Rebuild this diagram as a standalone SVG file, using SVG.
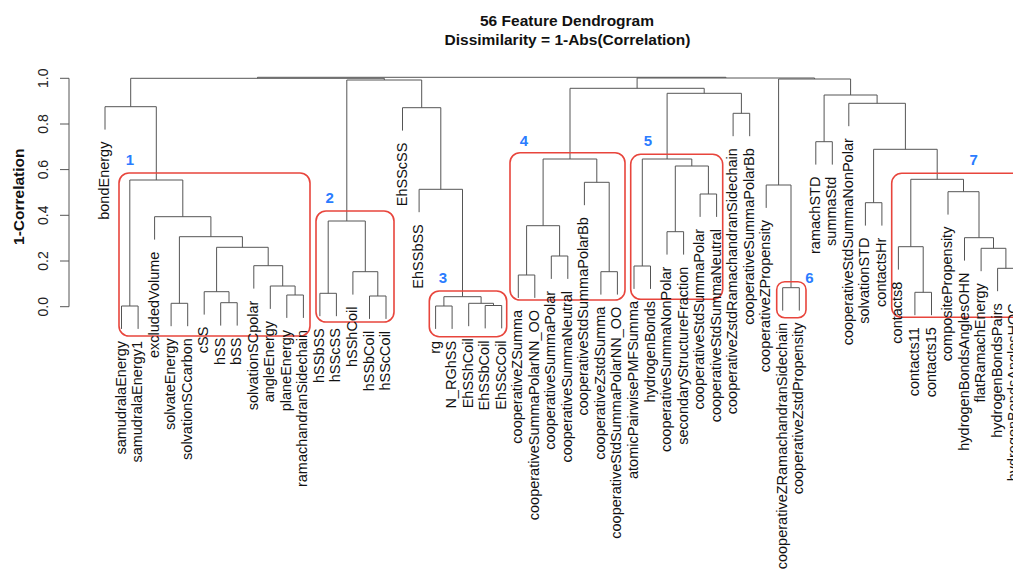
<svg xmlns="http://www.w3.org/2000/svg" width="1013" height="571" viewBox="0 0 1013 571">
<style>
text{font-family:"Liberation Sans",Arial,Helvetica,sans-serif;fill:#111}
.title{font-size:15.5px;font-weight:bold;text-anchor:middle}
.ytitle{font-size:15.5px;font-weight:bold;text-anchor:middle}
.tick{font-size:14px;text-anchor:middle;fill:#222}
.lbl{font-size:14.5px;text-anchor:end}
.tree path{fill:none;stroke:#555;stroke-width:1}
.axis{fill:none;stroke:#555;stroke-width:1}
.box{fill:none;stroke:#e8453c;stroke-width:1.6}
.cid{font-size:15px;font-weight:bold;fill:#2a7cff;text-anchor:middle}
</style>
<rect width="1013" height="571" fill="#fff"/>
<text class="title" x="567" y="26">56 Feature Dendrogram</text>
<text class="title" x="567.5" y="44.5">Dissimilarity = 1-Abs(Correlation)</text>
<g id="yaxis">
<path class="axis" d="M69 78.3V306.7M60 78.3H69M60 124H69M60 169.6H69M60 215.3H69M60 261H69M60 306.7H69"/>
<text class="tick" transform="translate(48.3,306.7) rotate(-90)">0.0</text>
<text class="tick" transform="translate(48.3,261) rotate(-90)">0.2</text>
<text class="tick" transform="translate(48.3,215.3) rotate(-90)">0.4</text>
<text class="tick" transform="translate(48.3,169.6) rotate(-90)">0.6</text>
<text class="tick" transform="translate(48.3,124) rotate(-90)">0.8</text>
<text class="tick" transform="translate(48.3,78.3) rotate(-90)">1.0</text>
<text class="ytitle" transform="translate(24,196.7) rotate(-90)">1-Correlation</text>
</g>
<g id="connectors" class="tree">
<path d="M121.5 328.9V306H138.1V328.9"/>
<path d="M286.8 317.9V295H303.4V317.9"/>
<path d="M270.3 308.9V286H295.1V295"/>
<path d="M253.8 288.6V265.7H282.7V286"/>
<path d="M220.7 325.6V302.7H237.2V325.6"/>
<path d="M204.2 314.6V291.7H229V302.7"/>
<path d="M216.6 291.7V247.3H268.2V265.7"/>
<path d="M171.1 326.2V303.3H187.7V326.2"/>
<path d="M179.4 303.3V236.7H242.4V247.3"/>
<path d="M154.6 239.6V216.7H210.9V236.7"/>
<path d="M129.8 306V180H182.8V216.7"/>
<path d="M105 129.6V106.7H156.3V180"/>
<path d="M319.9 316.2V293.3H336.4V316.2"/>
<path d="M369.5 318.9V296H386V318.9"/>
<path d="M352.9 294.6V271.7H377.8V296"/>
<path d="M328.2 293.3V221H365.3V271.7"/>
<path d="M435.6 328.9V306H452.1V328.9"/>
<path d="M485.2 328.4V305.5H501.7V328.4"/>
<path d="M468.7 326.2V303.3H493.5V305.5"/>
<path d="M443.9 306V296.7H481.1V303.3"/>
<path d="M419.1 212.2V189.3H462.5V296.7"/>
<path d="M402.5 130.6V107.7H440.8V189.3"/>
<path d="M346.8 221V80H421.7V107.7"/>
<path d="M518.3 297.9V275H534.8V297.9"/>
<path d="M551.3 278.9V256H567.8V278.9"/>
<path d="M526.6 275V225.7H559.6V256"/>
<path d="M600.9 294.6V271.7H617.4V294.6"/>
<path d="M584.4 205.2V182.3H609.2V271.7"/>
<path d="M543.1 225.7V159H596.8V182.3"/>
<path d="M634 288.9V266H650.5V288.9"/>
<path d="M667 254.6V231.7H683.6V254.6"/>
<path d="M700.1 216.9V194H716.6V216.9"/>
<path d="M675.3 231.7V166H708.4V194"/>
<path d="M642.3 266V159H691.8V166"/>
<path d="M733.1 136.2V113.3H749.7V136.2"/>
<path d="M667.1 159V93.3H741.4V113.3"/>
<path d="M570 159V88.3H704.2V93.3"/>
<path d="M782.7 310.6V287.7H799.3V310.6"/>
<path d="M766.2 207.9V185H791V287.7"/>
<path d="M815.8 164.6V141.7H832.3V164.6"/>
<path d="M865.4 225.6V202.7H881.9V225.6"/>
<path d="M914.9 315.2V292.3H931.5V315.2"/>
<path d="M898.4 269.6V246.7H923.2V292.3"/>
<path d="M997.6 291.2V268.3H1014.1V291.2"/>
<path d="M981.1 271.2V248.3H1005.9V268.3"/>
<path d="M964.5 260.6V237.7H993.5V248.3"/>
<path d="M948 214.6V191.7H979V237.7"/>
<path d="M910.8 246.7V179.3H963.5V191.7"/>
<path d="M873.6 202.7V149.3H937.2V179.3"/>
<path d="M848.8 126.2V103.3H905.4V149.3"/>
<path d="M824.1 141.7V95H877.1V103.3"/>
<path d="M778.6 185V79H850.6V95"/>
<path d="M130.7 106.7V78.3H384.3V80"/>
<path d="M637.1 88.3V78H814.6V79"/>
<path d="M257.5 78.3V77.3H725.9V78"/>
</g>
<g id="clusters">
<g id="cluster-1"><rect class="box" x="119" y="173" width="191" height="163" rx="10"/><text class="cid" x="130" y="165">1</text></g>
<g id="cluster-2"><rect class="box" x="316" y="211" width="78" height="111" rx="10"/><text class="cid" x="329.7" y="203.3">2</text></g>
<g id="cluster-3"><rect class="box" x="429.3" y="291" width="77.4" height="45.7" rx="10"/><text class="cid" x="443" y="283.3">3</text></g>
<g id="cluster-4"><rect class="box" x="510" y="152.7" width="115" height="147.3" rx="10"/><text class="cid" x="524" y="146">4</text></g>
<g id="cluster-5"><rect class="box" x="630.7" y="154.3" width="92" height="145" rx="10"/><text class="cid" x="648" y="146">5</text></g>
<g id="cluster-6"><rect class="box" x="776.7" y="281.7" width="29.3" height="36" rx="8"/><text class="cid" x="809.5" y="282.7">6</text></g>
<g id="cluster-7"><rect class="box" x="891.7" y="173.3" width="140" height="144" rx="10"/><text class="cid" x="973.7" y="165">7</text></g>
</g>
<g id="leaves">
<g id="leaf-1"><text class="lbl" transform="translate(109,141.6) rotate(-90)">bondEnergy</text></g>
<g id="leaf-2"><text class="lbl" transform="translate(125.5,340.9) rotate(-90)">samudralaEnergy</text></g>
<g id="leaf-3"><text class="lbl" transform="translate(142.1,340.9) rotate(-90)">samudralaEnergy1</text></g>
<g id="leaf-4"><text class="lbl" transform="translate(158.6,251.6) rotate(-90)">excludedVolume</text></g>
<g id="leaf-5"><text class="lbl" transform="translate(175.1,338.2) rotate(-90)">solvateEnergy</text></g>
<g id="leaf-6"><text class="lbl" transform="translate(191.7,338.2) rotate(-90)">solvationSCcarbon</text></g>
<g id="leaf-7"><text class="lbl" transform="translate(208.2,326.6) rotate(-90)">cSS</text></g>
<g id="leaf-8"><text class="lbl" transform="translate(224.7,337.6) rotate(-90)">hSS</text></g>
<g id="leaf-9"><text class="lbl" transform="translate(241.2,337.6) rotate(-90)">bSS</text></g>
<g id="leaf-10"><text class="lbl" transform="translate(257.8,300.6) rotate(-90)">solvationSCpolar</text></g>
<g id="leaf-11"><text class="lbl" transform="translate(274.3,320.9) rotate(-90)">angleEnergy</text></g>
<g id="leaf-12"><text class="lbl" transform="translate(290.8,329.9) rotate(-90)">planeEnergy</text></g>
<g id="leaf-13"><text class="lbl" transform="translate(307.4,329.9) rotate(-90)">ramachandranSidechain</text></g>
<g id="leaf-14"><text class="lbl" transform="translate(323.9,328.2) rotate(-90)">hSSbSS</text></g>
<g id="leaf-15"><text class="lbl" transform="translate(340.4,328.2) rotate(-90)">hSScSS</text></g>
<g id="leaf-16"><text class="lbl" transform="translate(356.9,306.6) rotate(-90)">hSShCoil</text></g>
<g id="leaf-17"><text class="lbl" transform="translate(373.5,330.9) rotate(-90)">hSSbCoil</text></g>
<g id="leaf-18"><text class="lbl" transform="translate(390,330.9) rotate(-90)">hSScCoil</text></g>
<g id="leaf-19"><text class="lbl" transform="translate(406.5,142.6) rotate(-90)">EhSScSS</text></g>
<g id="leaf-20"><text class="lbl" transform="translate(423.1,224.2) rotate(-90)">EhSSbSS</text></g>
<g id="leaf-21"><text class="lbl" transform="translate(439.6,340.9) rotate(-90)">rg</text></g>
<g id="leaf-22"><text class="lbl" transform="translate(456.1,340.9) rotate(-90)">N_RGhSS</text></g>
<g id="leaf-23"><text class="lbl" transform="translate(472.7,338.2) rotate(-90)">EhSShCoil</text></g>
<g id="leaf-24"><text class="lbl" transform="translate(489.2,340.4) rotate(-90)">EhSSbCoil</text></g>
<g id="leaf-25"><text class="lbl" transform="translate(505.7,340.4) rotate(-90)">EhSScCoil</text></g>
<g id="leaf-26"><text class="lbl" transform="translate(522.3,309.9) rotate(-90)">cooperativeZSumma</text></g>
<g id="leaf-27"><text class="lbl" transform="translate(538.8,309.9) rotate(-90)">cooperativeSummaPolarNN_OO</text></g>
<g id="leaf-28"><text class="lbl" transform="translate(555.3,290.9) rotate(-90)">cooperativeSummaPolar</text></g>
<g id="leaf-29"><text class="lbl" transform="translate(571.8,290.9) rotate(-90)">cooperativeSummaNeutral</text></g>
<g id="leaf-30"><text class="lbl" transform="translate(588.4,217.2) rotate(-90)">cooperativeStdSummaPolarBb</text></g>
<g id="leaf-31"><text class="lbl" transform="translate(604.9,306.6) rotate(-90)">cooperativeZstdSumma</text></g>
<g id="leaf-32"><text class="lbl" transform="translate(621.4,306.6) rotate(-90)">cooperativeStdSummaPolarNN_OO</text></g>
<g id="leaf-33"><text class="lbl" transform="translate(638,300.9) rotate(-90)">atomicPairwisePMFSumma</text></g>
<g id="leaf-34"><text class="lbl" transform="translate(654.5,300.9) rotate(-90)">hydrogenBonds</text></g>
<g id="leaf-35"><text class="lbl" transform="translate(671,266.6) rotate(-90)">cooperativeSummaNonPolar</text></g>
<g id="leaf-36"><text class="lbl" transform="translate(687.6,266.6) rotate(-90)">secondaryStructureFraction</text></g>
<g id="leaf-37"><text class="lbl" transform="translate(704.1,228.9) rotate(-90)">cooperativeStdSummaPolar</text></g>
<g id="leaf-38"><text class="lbl" transform="translate(720.6,228.9) rotate(-90)">cooperativeStdSummaNeutral</text></g>
<g id="leaf-39"><text class="lbl" transform="translate(737.1,148.2) rotate(-90)">cooperativeZstdRamachandranSidechain</text></g>
<g id="leaf-40"><text class="lbl" transform="translate(753.7,148.2) rotate(-90)">cooperativeSummaPolarBb</text></g>
<g id="leaf-41"><text class="lbl" transform="translate(770.2,219.9) rotate(-90)">cooperativeZPropensity</text></g>
<g id="leaf-42"><text class="lbl" transform="translate(786.7,322.6) rotate(-90)">cooperativeZRamachandranSidechain</text></g>
<g id="leaf-43"><text class="lbl" transform="translate(803.3,322.6) rotate(-90)">cooperativeZstdPropensity</text></g>
<g id="leaf-44"><text class="lbl" transform="translate(819.8,176.6) rotate(-90)">ramachSTD</text></g>
<g id="leaf-45"><text class="lbl" transform="translate(836.3,176.6) rotate(-90)">summaStd</text></g>
<g id="leaf-46"><text class="lbl" transform="translate(852.8,138.2) rotate(-90)">cooperativeStdSummaNonPolar</text></g>
<g id="leaf-47"><text class="lbl" transform="translate(869.4,237.6) rotate(-90)">solvationSTD</text></g>
<g id="leaf-48"><text class="lbl" transform="translate(885.9,237.6) rotate(-90)">contactsHr</text></g>
<g id="leaf-49"><text class="lbl" transform="translate(902.4,281.6) rotate(-90)">contacts8</text></g>
<g id="leaf-50"><text class="lbl" transform="translate(918.9,327.2) rotate(-90)">contacts11</text></g>
<g id="leaf-51"><text class="lbl" transform="translate(935.5,327.2) rotate(-90)">contacts15</text></g>
<g id="leaf-52"><text class="lbl" transform="translate(952,226.6) rotate(-90)">compositePropensity</text></g>
<g id="leaf-53"><text class="lbl" transform="translate(968.5,272.6) rotate(-90)">hydrogenBondsAnglesOHN</text></g>
<g id="leaf-54"><text class="lbl" transform="translate(985.1,283.2) rotate(-90)">flatRamachEnergy</text></g>
<g id="leaf-55"><text class="lbl" transform="translate(1001.6,303.2) rotate(-90)">hydrogenBondsPairs</text></g>
<g id="leaf-56"><text class="lbl" transform="translate(1018.1,303.2) rotate(-90)">hydrogenBondsAnglesHOC</text></g>
</g>
</svg>
